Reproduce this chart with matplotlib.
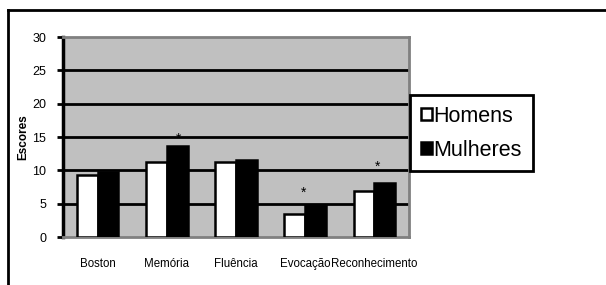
import matplotlib
matplotlib.use("Agg")
import matplotlib.pyplot as plt
import numpy as np
from matplotlib.lines import Line2D

categories = ["Boston", "Memória", "Fluência", "Evocação", "Reconhecimento"]
homens = [9.3, 11.2, 11.2, 3.4, 6.9]
mulheres = [9.7, 13.7, 11.5, 4.8, 8.1]
series_labels = ["Homens", "Mulheres"]
star_cats = [1, 3, 4]
star_dx = [0.17, -0.03, 0.05]
star_y = [14.7, 6.6, 10.5]
yticks = [0, 5, 10, 15, 20, 25, 30]

plt.rcParams['font.family'] = ['Liberation Sans', 'DejaVu Sans']

fig = plt.figure(figsize=(6.06, 2.85), dpi=100)
W, H = 606, 285

# outer frame (left and top borders)
fig.add_artist(Line2D([8 / W, 8 / W], [0, 1 - 10 / H], color='black', lw=2, transform=fig.transFigure))
fig.add_artist(Line2D([8 / W, 1], [1 - 10 / H, 1 - 10 / H], color='black', lw=2, transform=fig.transFigure))

ax = fig.add_axes([63 / W, 1 - 237 / H, (409 - 63) / W, (237 - 37) / H])
ax.set_facecolor('#c0c0c0')

x = np.arange(len(categories))
bw = 0.3
ax.bar(x - bw / 2, homens, bw, color='white', edgecolor='black', linewidth=1.8, zorder=3, label=series_labels[0])
ax.bar(x + bw / 2, mulheres, bw, color='black', edgecolor='black', linewidth=1.8, zorder=3, label=series_labels[1])

for t in yticks[1:-1]:
    ax.axhline(t, color='black', lw=2, zorder=1)

for c, dx, yy in zip(star_cats, star_dx, star_y):
    ax.text(c + dx, yy, "*", ha='center', va='center', fontsize=10, zorder=4)

ax.set_xlim(-0.5, len(categories) - 0.5)
ax.set_ylim(0, 30)
ax.set_yticks(yticks)
ax.set_yticklabels([str(t) for t in yticks], fontsize=9)
ax.set_xticks(x)
ax.set_xticklabels(categories, fontsize=8.3)
ax.tick_params(axis='x', length=0, pad=15)
ax.tick_params(axis='y', length=4, width=2, pad=8, direction='out')

for s in ['top', 'right', 'bottom']:
    ax.spines[s].set_color('#808080')
    ax.spines[s].set_linewidth(2)
ax.spines['left'].set_color('black')
ax.spines['left'].set_linewidth(2.5)

ax.set_ylabel("Escores", fontsize=8.5, fontweight='bold')
ax.yaxis.set_label_coords((29 - 63) / (409 - 63), 0.5)

leg = fig.legend(loc='upper left', bbox_to_anchor=(410 / W, 1 - 95 / H), fontsize=15.5,
                 frameon=True, fancybox=False, edgecolor='black', framealpha=1,
                 handlelength=0.5, handleheight=0.5, handletextpad=0.1,
                 labelspacing=0.6, borderpad=0.5, borderaxespad=0)
leg.get_frame().set_linewidth(2)

fig.savefig("out.png", dpi=100)
